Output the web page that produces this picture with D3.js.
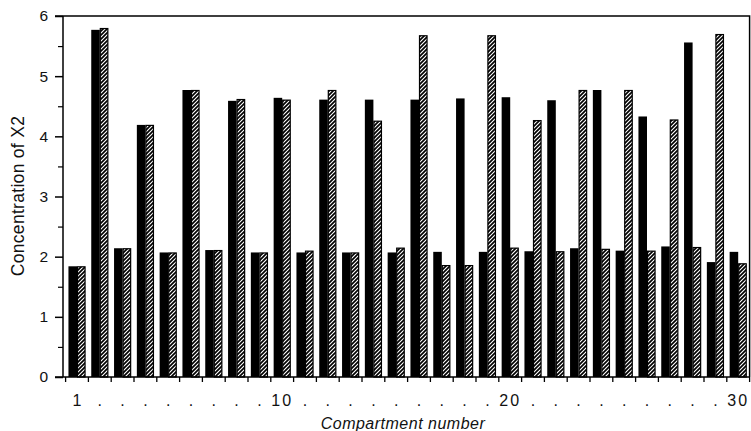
<!DOCTYPE html>
<html>
<head>
<meta charset="utf-8">
<script src="https://cdn.jsdelivr.net/npm/d3@7"></script>
<style>
  html, body { margin: 0; padding: 0; background: #fff; }
  svg { display: block; }
  text { font-family: "Liberation Sans", Arial, Helvetica, sans-serif; fill: #111; }
</style>
</head>
<body>
<svg id="chart" width="751" height="431"></svg>
<script>
// ---- data ----
const compartments = d3.range(1, 31);
const blackValues = [1.84, 5.77, 2.14, 4.19, 2.07, 4.77, 2.11, 4.59, 2.07, 4.64,
                     2.07, 4.61, 2.07, 4.61, 2.07, 4.61, 2.08, 4.63, 2.08, 4.65,
                     2.09, 4.60, 2.14, 4.77, 2.10, 4.33, 2.17, 5.56, 1.91, 2.08];
const hatchedValues = [1.84, 5.80, 2.14, 4.19, 2.07, 4.77, 2.11, 4.62, 2.07, 4.61,
                       2.10, 4.77, 2.07, 4.26, 2.15, 5.68, 1.86, 1.86, 5.68, 2.15,
                       4.27, 2.09, 4.77, 2.13, 4.77, 2.10, 4.28, 2.16, 5.70, 1.89];
const xTickLabels = ["1", ".", ".", ".", ".", ".", ".", ".", ".", "10",
                     ".", ".", ".", ".", ".", ".", ".", ".", ".", "20",
                     ".", ".", ".", ".", ".", ".", ".", ".", ".", "30"];
const yTicks = [0, 1, 2, 3, 4, 5, 6];
const yMinorTicks = [0.5, 1.5, 2.5, 3.5, 4.5, 5.5];
const seriesKeys = ["black", "hatched"];
const yTitle = "Concentration of X2";
const xTitle = "Compartment number";

// ---- layout ----
const svg = d3.select("#chart");
const mLeft = 63, mRight = 749.6, mTop = 16, mBottom = 377;

const x = d3.scaleBand().domain(compartments).range([65.6, 749.6])
  .paddingInner(0.25).paddingOuter(0.125);
const xs = d3.scaleBand().domain(seriesKeys).range([0, x.bandwidth()]);
const y = d3.scaleLinear().domain([0, 6]).range([mBottom, mTop]);

// hatch pattern
const defs = svg.append("defs");
const pat = defs.append("pattern").attr("id", "hatch")
  .attr("patternUnits", "userSpaceOnUse").attr("width", 4).attr("height", 4);
pat.append("rect").attr("width", 4).attr("height", 4).attr("fill", "#fff");
pat.append("path").attr("d", "M-1,1 l2,-2 M0,4 l4,-4 M3,5 l2,-2")
  .attr("stroke", "#000").attr("stroke-width", 1.7);

// bars
const rows = compartments.map((c, i) => ({ c, black: blackValues[i], hatched: hatchedValues[i] }));
const g = svg.append("g");
g.selectAll("rect.b").data(rows).join("rect").attr("class", "b")
  .attr("x", d => x(d.c) + xs("black"))
  .attr("width", xs.bandwidth())
  .attr("y", d => y(d.black))
  .attr("height", d => y(0) - y(d.black))
  .attr("fill", "#000");
g.selectAll("rect.h").data(rows).join("rect").attr("class", "h")
  .attr("x", d => x(d.c) + xs("hatched") + 0.5)
  .attr("width", xs.bandwidth() - 1)
  .attr("y", d => y(d.hatched) + 0.5)
  .attr("height", d => y(0) - y(d.hatched) - 0.5)
  .attr("fill", "url(#hatch)")
  .attr("stroke", "#000").attr("stroke-width", 1.2);

// y axis
const yAxis = svg.append("g").attr("transform", `translate(${mLeft},0)`)
  .call(d3.axisLeft(y).tickValues(yTicks).tickSize(8).tickPadding(7).tickFormat(d3.format("d")));
yAxis.select(".domain").remove();
yAxis.selectAll("line").attr("stroke", "#000").attr("stroke-width", 1.5);
yAxis.selectAll("text").attr("font-size", 15.5).style("font-family", "Liberation Sans, Arial, sans-serif");
const yMinor = svg.append("g").attr("transform", `translate(${mLeft},0)`)
  .call(d3.axisLeft(y).tickValues(yMinorTicks).tickSize(5).tickFormat(""));
yMinor.select(".domain").remove();
yMinor.selectAll("line").attr("stroke", "#000").attr("stroke-width", 1.2);

// x axis: ticks at band boundaries
const step = x.step();
const boundaries = d3.range(0, 31).map(k => x(1) - x.paddingInner() * step / 2 + k * step);
svg.append("g").selectAll("line").data(boundaries).join("line")
  .attr("x1", d => d).attr("x2", d => d)
  .attr("y1", mBottom).attr("y2", mBottom + 5)
  .attr("stroke", "#000").attr("stroke-width", 1.3);
svg.append("g").selectAll("text").data(compartments).join("text")
  .attr("x", d => x(d) + x.bandwidth() / 2)
  .attr("y", 406)
  .attr("text-anchor", "middle")
  .attr("font-size", 16)
  .attr("letter-spacing", d => xTickLabels[d - 1].length > 1 ? 2 : 0)
  .text(d => xTickLabels[d - 1]);

// frame
svg.append("path")
  .attr("d", `M55,${mTop} H${mRight} V${mBottom} M${mLeft},${mTop} V${mBottom} M55,${mBottom} H${mRight}`)
  .attr("fill", "none").attr("stroke", "#000").attr("stroke-width", 1.5);

// titles
svg.append("text")
  .attr("transform", `translate(24,196) rotate(-90)`)
  .attr("text-anchor", "middle")
  .attr("font-size", 17.5)
  .attr("letter-spacing", 0.3)
  .text(yTitle);
svg.append("text")
  .attr("x", 403).attr("y", 429)
  .attr("text-anchor", "middle")
  .attr("font-size", 16)
  .attr("font-style", "italic")
  .attr("letter-spacing", 0.5)
  .text(xTitle);
</script>
</body>
</html>
